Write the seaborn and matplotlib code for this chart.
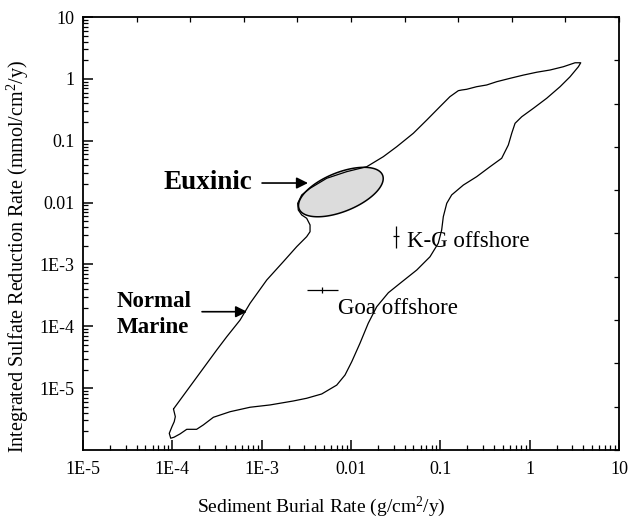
import numpy as np
import pandas as pd
import matplotlib
matplotlib.use("Agg")
import matplotlib.pyplot as plt
import seaborn as sns
from matplotlib.ticker import LogLocator, FixedLocator, FixedFormatter, NullFormatter, MultipleLocator

# ---------------- data ----------------
# closed outline of the sulfate-reduction / burial-rate field
outline_x = [1.03e-4, 1.08e-4, 1.05e-4, 9.9e-5, 9.24e-5, 9.59e-5, 1.045e-4, 1.22e-4, 1.45e-4,
             1.87e-4, 2.22e-4, 2.88e-4, 4.43e-4, 7.41e-4, 1.24e-3, 2.26e-3, 3.19e-3, 4.70e-3,
             6.92e-3, 8.57e-3, 1.02e-2, 1.26e-2, 1.56e-2, 1.94e-2, 2.62e-2, 3.54e-2, 5.45e-2,
             7.66e-2, 9.48e-2, 0.1035, 0.108, 0.118, 0.134, 0.181, 0.255, 0.360, 0.486, 0.577,
             0.630, 0.686, 0.815, 1.10, 1.55, 2.19, 2.83, 3.51, 3.73,
             3.22, 2.38, 1.69, 1.20, 0.849, 0.603, 0.428, 0.330, 0.255, 0.197, 0.173, 0.159,
             0.128, 0.099, 0.0705, 0.0499, 0.0325, 0.0230, 0.0150, 8.95e-3, 5.35e-3, 3.48e-3,
             2.81e-3, 2.53e-3, 2.57e-3, 2.81e-3, 3.19e-3, 3.48e-3, 3.48e-3, 3.19e-3, 2.47e-3,
             1.75e-3, 1.14e-3, 7.41e-4, 5.73e-4, 4.07e-4, 3.14e-4, 1.03e-4]
outline_y = [4.60e-6, 3.46e-6, 2.87e-6, 2.38e-6, 1.86e-6, 1.55e-6, 1.61e-6, 1.82e-6, 2.16e-6,
             2.16e-6, 2.54e-6, 3.38e-6, 4.16e-6, 4.91e-6, 5.35e-6, 6.2e-6, 6.86e-6, 8.05e-6,
             1.12e-5, 1.63e-5, 2.68e-5, 5.31e-5, 1.12e-4, 2.07e-4, 3.49e-4, 4.95e-4, 8.13e-4,
             1.33e-3, 2.20e-3, 3.61e-3, 5.92e-3, 9.73e-3, 1.33e-2, 1.92e-2, 2.62e-2, 3.80e-2,
             5.20e-2, 8.53e-2, 0.132, 0.191, 0.244, 0.334, 0.485, 0.747, 1.08, 1.57, 1.82,
             1.82, 1.57, 1.39, 1.28, 1.15, 1.02, 0.90, 0.796, 0.747, 0.678, 0.660, 0.644,
             0.515, 0.355, 0.216, 0.132, 0.080, 0.0552, 0.0380, 0.0316, 0.0247, 0.0170,
             0.0133, 9.73e-3, 7.59e-3, 6.30e-3, 5.57e-3, 4.35e-3, 3.38e-3, 2.81e-3, 1.94e-3,
             1.11e-3, 5.60e-4, 2.35e-4, 1.26e-4, 6.79e-5, 4.14e-5, 4.60e-6]

# Euxinic field (ellipse in log space): centre and conjugate semi-diameters (decades)
euxinic_center = (7.7e-3, 1.48e-2)
euxinic_u = (0.467, 0.273)
euxinic_v = (-0.082, 0.292)

# site data (centre, low, high)
kg_x, kg_xlo, kg_xhi = 0.0316, 0.0293, 0.0341
kg_y, kg_ylo, kg_yhi = 2.85e-3, 1.84e-3, 4.2e-3
goa_x, goa_xlo, goa_xhi = 4.7e-3, 3.19e-3, 7.1e-3
goa_y, goa_ylo, goa_yhi = 3.86e-4, 3.5e-4, 4.27e-4

x_tick_values = [1e-5, 1e-4, 1e-3, 1e-2, 1e-1, 1, 10]
x_tick_labels = ["1E-5", "1E-4", "1E-3", "0.01", "0.1", "1", "10"]
y_tick_values = [1e-5, 1e-4, 1e-3, 1e-2, 1e-1, 1, 10]
y_tick_labels = ["1E-5", "1E-4", "1E-3", "0.01", "0.1", "1", "10"]

# ---------------- style ----------------
sns.set_theme(style="white")
plt.rcParams["font.family"] = ["Liberation Serif", "DejaVu Serif"]
plt.rcParams["mathtext.fontset"] = "custom"
plt.rcParams["mathtext.rm"] = "Liberation Serif"
plt.rcParams["mathtext.it"] = "Liberation Serif:italic"
for key in ("text.color", "axes.labelcolor", "xtick.color", "ytick.color", "axes.edgecolor"):
    plt.rcParams[key] = "black"

fig = plt.figure(figsize=(6.32, 5.21), dpi=100)
ax = fig.add_axes([83 / 632, 71 / 521, 536 / 632, 433 / 521])
ax.set_xscale("log")
ax.set_yscale("log")
ax.set_xlim(1e-5, 10)
ax.set_ylim(1e-6, 10)

# Euxinic ellipse
t = np.linspace(0, 2 * np.pi, 300)
ex = 10 ** (np.log10(euxinic_center[0]) + euxinic_u[0] * np.cos(t) + euxinic_v[0] * np.sin(t))
ey = 10 ** (np.log10(euxinic_center[1]) + euxinic_u[1] * np.cos(t) + euxinic_v[1] * np.sin(t))
ax.fill(ex, ey, facecolor="#dcdcdc", edgecolor="black", lw=1.1, zorder=2)

# outline
df = pd.DataFrame({"x": outline_x, "y": outline_y})
sns.lineplot(data=df, x="x", y="y", sort=False, estimator=None, color="black",
             lw=0.9, ax=ax, zorder=3)

# site error bars
ax.errorbar([kg_x], [kg_y], yerr=[[kg_y - kg_ylo], [kg_yhi - kg_y]],
            xerr=[[kg_x - kg_xlo], [kg_xhi - kg_x]], fmt="none", ecolor="black",
            elinewidth=0.9, capsize=0, zorder=4)
ax.errorbar([goa_x], [goa_y], yerr=[[goa_y - goa_ylo], [goa_yhi - goa_y]],
            xerr=[[goa_x - goa_xlo], [goa_xhi - goa_x]], fmt="none", ecolor="black",
            elinewidth=0.9, capsize=0, zorder=4)

# texts
ax.text(7.8e-4, 1.64e-2, "Euxinic", fontsize=19.5, fontweight="bold", ha="right", va="baseline")
ax.annotate("", xy=(3.3e-3, 2.07e-2), xytext=(1.01e-3, 2.07e-2),
            arrowprops=dict(arrowstyle="-|>", color="black", lw=1.2, mutation_scale=17,
                            shrinkA=0, shrinkB=0))
ax.text(2.4e-5, 2.07e-4, "Normal", fontsize=16.5, fontweight="bold", ha="left", va="baseline")
ax.text(2.4e-5, 7.7e-5, "Marine", fontsize=16.5, fontweight="bold", ha="left", va="baseline")
ax.annotate("", xy=(6.86e-4, 1.72e-4), xytext=(2.15e-4, 1.72e-4),
            arrowprops=dict(arrowstyle="-|>", color="black", lw=1.2, mutation_scale=17,
                            shrinkA=0, shrinkB=0))
ax.text(0.0424, 1.89e-3, "K-G offshore", fontsize=16.5, ha="left", va="baseline")
ax.text(7.2e-3, 1.58e-4, "Goa offshore", fontsize=16.5, ha="left", va="baseline")

# axes ticks
ax.xaxis.set_major_locator(FixedLocator(x_tick_values))
ax.xaxis.set_major_formatter(FixedFormatter(x_tick_labels))
ax.xaxis.set_minor_locator(LogLocator(base=10, subs=np.arange(2, 10), numticks=20))
ax.xaxis.set_minor_formatter(NullFormatter())
ax.yaxis.set_major_locator(FixedLocator(y_tick_values))
ax.yaxis.set_major_formatter(FixedFormatter(y_tick_labels))
ax.yaxis.set_minor_locator(LogLocator(base=10, subs=np.arange(2, 10), numticks=20))
ax.yaxis.set_minor_formatter(NullFormatter())
ax.tick_params(axis="both", which="major", direction="in", length=7, width=1.1,
               labelsize=13, colors="black", top=False, right=False)
ax.tick_params(axis="x", which="major", pad=8)
ax.tick_params(axis="y", which="major", pad=6)
ax.tick_params(axis="both", which="minor", direction="in", length=3.5, width=0.9,
               colors="black", top=False, right=False)
for s in ax.spines.values():
    s.set_linewidth(1.3)
    s.set_color("black")

# top / right frame ticks (evenly spaced)
ax_t = ax.twiny()
ax_t.set_xlim(0, 1)
ax_t.xaxis.set_major_locator(MultipleLocator(0.1))
ax_t.tick_params(axis="x", direction="in", length=3.5, width=0.9, labeltop=False, top=True,
                 colors="black")
ax_r = ax.twinx()
ax_r.set_ylim(0, 1)
ax_r.yaxis.set_major_locator(MultipleLocator(0.1))
ax_r.tick_params(axis="y", direction="in", length=3.5, width=0.9, labelright=False, right=True,
                 colors="black")
for a in (ax_t, ax_r):
    for s in a.spines.values():
        s.set_visible(False)
    a.grid(False)

ax.set_xlabel("Sediment Burial Rate (g/cm$^{\\mathrm{2}}$/y)", fontsize=14, color="black")
ax.set_ylabel("Integrated Sulfate Reduction Rate (mmol/cm$^{\\mathrm{2}}$/y)", fontsize=14.5,
              color="black")
ax.xaxis.set_label_coords(0.444, -0.104)
ax.yaxis.set_label_coords(-0.097, 0.447)

fig.savefig("out.png", dpi=100)
